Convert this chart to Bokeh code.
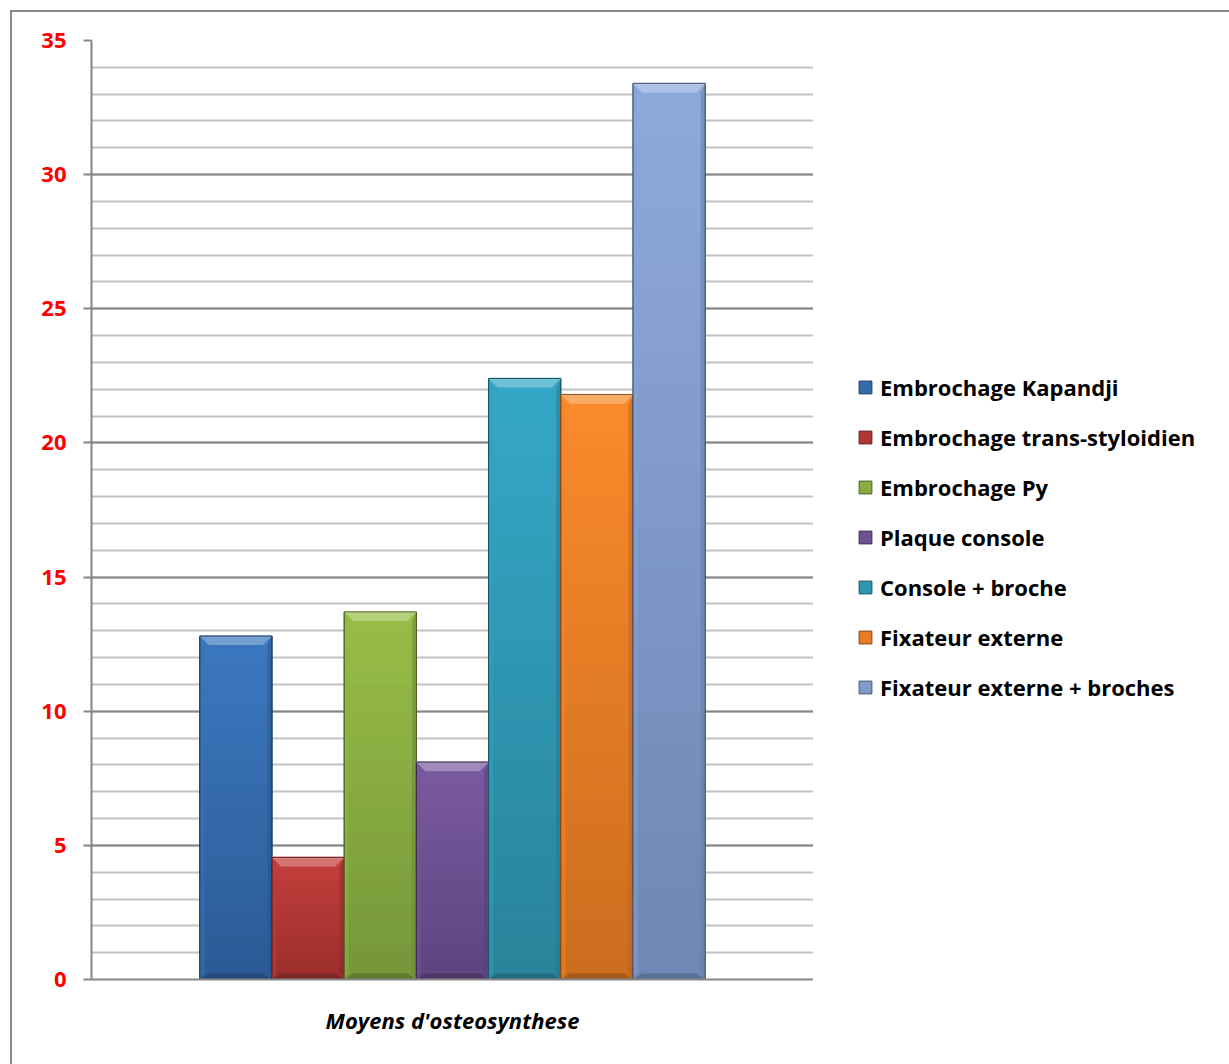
import numpy as np
from bokeh.plotting import figure
from bokeh.layouts import row
from bokeh.models import (Range1d, SingleIntervalTicker, FixedTicker, Legend,
                          LegendItem, ColumnDataSource)
from bokeh.embed import file_html
from bokeh.resources import INLINE

# ---- data -------------------------------------------------------------
methods = [
    "Embrochage Kapandji",
    "Embrochage trans-styloidien",
    "Embrochage Py",
    "Plaque console",
    "Console + broche",
    "Fixateur externe",
    "Fixateur externe + broches",
]
percent = [12.8, 4.55, 13.7, 8.1, 22.4, 21.8, 33.4]
category_label = "Moyens d'osteosynthese"
y_ticks = [0, 5, 10, 15, 20, 25, 30, 35]

# ---- styling ----------------------------------------------------------
top_colors = ["#3c79c1", "#c43f3c", "#98be47", "#7b5ba0", "#35a8c7", "#fb8b2b", "#8eaadc"]
bottom_colors = ["#2b5a95", "#9a2e2c", "#74963a", "#5c4480", "#28839a", "#cc6c1e", "#6e87b4"]


def hex_to_rgb(c):
    c = c.lstrip("#")
    return np.array([int(c[i:i + 2], 16) for i in (0, 2, 4)], dtype=float)


def rgb_to_hex(a):
    a = np.clip(np.round(a), 0, 255).astype(int)
    return "#%02x%02x%02x" % tuple(a)


def mix(c1, c2, t):
    return rgb_to_hex(hex_to_rgb(c1) * (1 - t) + hex_to_rgb(c2) * t)


GRID_MAJOR = "#868686"
GRID_MINOR = "#c2c2c2"
FONT = "Open Sans"
HEIGHT = 1052

# ---- main chart -------------------------------------------------------
p = figure(
    width=801, height=HEIGHT,
    x_range=Range1d(0, 1), y_range=Range1d(0, 35),
    output_backend="svg", toolbar_location=None,
    min_border_left=79, min_border_right=0,
    min_border_top=28, min_border_bottom=85,
    background_fill_color="white", border_fill_color="white",
)
p.outline_line_color = None

# grid: major every 5, minor every 1
p.xgrid.visible = False
p.ygrid.ticker = SingleIntervalTicker(interval=5, num_minor_ticks=5)
p.ygrid.grid_line_color = GRID_MAJOR
p.ygrid.grid_line_width = 2
p.ygrid.minor_grid_line_color = GRID_MINOR
p.ygrid.minor_grid_line_width = 2

# y axis
yax = p.yaxis[0]
yax.ticker = FixedTicker(ticks=y_ticks)
yax.axis_line_color = GRID_MAJOR
yax.axis_line_width = 2
yax.major_tick_line_color = GRID_MAJOR
yax.major_tick_line_width = 2
yax.major_tick_out = 8
yax.major_tick_in = 0
yax.minor_tick_line_color = None
yax.major_label_standoff = 17
yax.major_label_text_color = "#ff0000"
yax.major_label_text_font = FONT
yax.major_label_text_font_style = "bold"
yax.major_label_text_font_size = "22px"

# x axis: a single category label
xax = p.xaxis[0]
xax.ticker = FixedTicker(ticks=[0.5])
xax.major_label_overrides = {0.5: category_label}
xax.axis_line_color = GRID_MAJOR
xax.axis_line_width = 2
xax.major_tick_line_color = None
xax.minor_tick_line_color = None
xax.major_label_standoff = 19
xax.major_label_text_color = "black"
xax.major_label_text_font = FONT
xax.major_label_text_font_style = "bold italic"
xax.major_label_text_font_size = "22px"

# ---- bars -------------------------------------------------------------
n = len(methods)
bar_w = 0.1
centers = [0.5 + (i - (n - 1) / 2) * bar_w for i in range(n)]

px_per_unit_y = 939 / 35.0
px_per_unit_x = 722 / 1.0
bevel_h = 9 / px_per_unit_y
bevel_in = 9 / px_per_unit_x
base_h = 6 / px_per_unit_y

n_slices = 30
swatch_styles = []
for i, (name, v) in enumerate(zip(methods, percent)):
    x0 = centers[i] - bar_w / 2
    x1 = centers[i] + bar_w / 2
    mid = mix(bottom_colors[i], top_colors[i], 0.55)
    edge = mix(bottom_colors[i], "#000000", 0.35)
    swatch_styles.append((mid, edge))

    # full bar
    p.vbar(x=[centers[i]], top=[v], bottom=0, width=bar_w,
           fill_color=mid, line_color=edge, line_width=1)

    # vertical shading: darker toward the base
    fr = np.linspace(0, 1, n_slices + 1)
    bottoms = [v * f for f in fr[:-1]]
    tops = [v * f for f in fr[1:]]
    cols = [mix(bottom_colors[i], top_colors[i], (k + 0.5) / n_slices) for k in range(n_slices)]
    src = ColumnDataSource(dict(x=[centers[i]] * n_slices, bottom=bottoms, top=tops, c=cols))
    p.vbar(x="x", bottom="bottom", top="top", width=bar_w - 0.002, fill_color="c",
           line_color=None, source=src)

    # bevel: lighter top face
    p.patch(x=[x0, x1, x1 - bevel_in, x0 + bevel_in],
            y=[v, v, v - bevel_h, v - bevel_h],
            fill_color=mix(top_colors[i], "#ffffff", 0.28), line_color=None)
    # side faces
    p.patch(x=[x0, x0 + bevel_in * 0.5, x0 + bevel_in * 0.5, x0],
            y=[v, v - bevel_h, base_h, 0],
            fill_color=mix(top_colors[i], "#000000", 0.04), line_color=None, fill_alpha=0.5)
    p.patch(x=[x1, x1 - bevel_in * 0.5, x1 - bevel_in * 0.5, x1],
            y=[v, v - bevel_h, base_h, 0],
            fill_color=mix(bottom_colors[i], "#000000", 0.1), line_color=None, fill_alpha=0.5)
    # darker bottom face
    p.patch(x=[x0, x1, x1 - bevel_in, x0 + bevel_in],
            y=[0, 0, base_h, base_h],
            fill_color=mix(bottom_colors[i], "#000000", 0.18), line_color=None)
    # highlight on the top edge
    p.line(x=[x0, x1], y=[v, v], line_color=mix(top_colors[i], "#ffffff", 0.5), line_width=2)
    # outline
    p.patch(x=[x0, x1, x1, x0], y=[0, 0, v, v], fill_color=None,
            line_color=edge, line_width=1)

# ---- legend panel -----------------------------------------------------
q = figure(
    width=416, height=HEIGHT, x_range=Range1d(0, 1), y_range=Range1d(0, 1),
    output_backend="svg", toolbar_location=None,
    x_axis_type=None, y_axis_type=None, min_border=0,
    background_fill_color="white", border_fill_color="white",
)
q.outline_line_color = None
q.grid.visible = False

# swatch renderers: one box each, placed outside the visible range
legend_items = []
for name, (mid, edge) in zip(methods, swatch_styles):
    r = q.quad(left=[-5], right=[-4], bottom=[-5], top=[-4],
               fill_color=mid, line_color=edge, line_width=1)
    legend_items.append(LegendItem(label=name, renderers=[r]))

legend = Legend(
    items=legend_items, location=(44, 277), orientation="vertical",
    glyph_width=16, glyph_height=16, label_height=20, spacing=20,
    padding=0, margin=0, label_standoff=7,
    border_line_color=None, background_fill_alpha=0,
    label_text_font=FONT, label_text_font_style="bold",
    label_text_font_size="22px", label_text_color="black",
)
q.add_layout(legend, "center")

layout = row(p, q, styles={
    "margin-left": "10px", "margin-top": "10px",
    "border-left": "2px solid #8a8a8a", "border-top": "2px solid #8a8a8a",
})

open("out.html", "w").write(file_html(layout, INLINE))
